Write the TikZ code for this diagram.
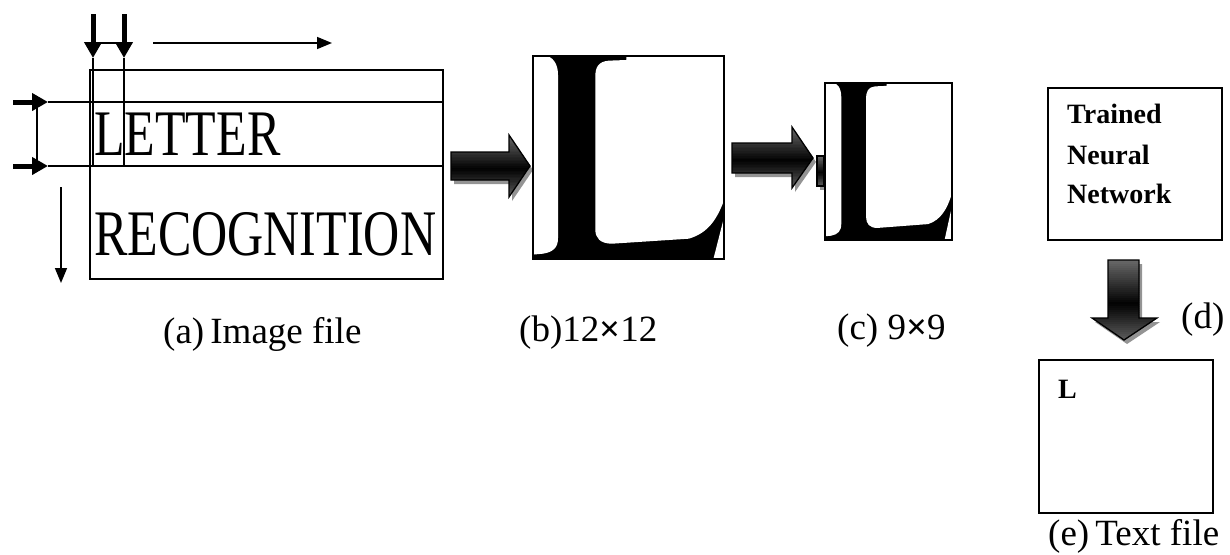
\documentclass[tikz,border=0pt]{standalone}
\usepackage{fontspec}
\usepackage{graphicx}
\setmainfont{Liberation Serif}
\usetikzlibrary{arrows.meta}
\newcommand\gradarrow[5]{%
  \fill[fill=black!42, shift={(3,4)}] #1;
  \begin{scope}
    \clip #1;
    \foreach \gk in {0,...,39}{%
      \pgfmathsetmacro\gya{#2+(#3-#2)*\gk/40}
      \pgfmathsetmacro\gyb{#2+(#3-#2)*(\gk+1.3)/40}
      \pgfmathsetmacro\gradT{\gk/39}
      \pgfmathtruncatemacro\gradP{\gradT<0.55 ? 60+40*\gradT/0.55 : 100-34*(\gradT-0.55)/0.45}
      \fill[black!\gradP] (#4,\gya) rectangle (#5,\gyb);
    }
  \end{scope}
  \draw[line width=1.3pt, line join=miter] #1;
}
\begin{document}
\begin{tikzpicture}[x=1pt,y=-1pt,
  frame/.style={draw=black, line width=1.6pt, inner sep=0pt, anchor=north west},
  bandline/.style={line width=2pt},
  guideline/.style={line width=1.5pt},
  thickarrow/.style={line width=5pt, -{Triangle[length=16pt,width=17pt]}},
  thinarrow/.style={line width=1.6pt, -{Triangle[length=15pt,width=12pt]}},
  lbl/.style={font=\fontsize{37}{40}\selectfont, anchor=base west, inner sep=0pt},
  bigword/.style={font=\fontsize{65}{70}\selectfont, anchor=base west, inner sep=0pt},
  nntext/.style={font=\fontsize{28}{40}\selectfont\bfseries, anchor=base west, inner sep=0pt},
]
\useasboundingbox (0,0) rectangle (1230,554);

% ---------------- (a) image file ----------------
\node[frame, minimum width=353pt, minimum height=209pt] (imgbox) at (89,69) {};
\node[bigword] (letter) at (94,155) {\scalebox{0.77}[1]{LETTER}};
\node[bigword] (recog) at (94,255) {\scalebox{0.77}[1]{RECOGNITION}};

\coordinate (lt0) at (13,102); \coordinate (lt1) at (48,102);
\coordinate (lb0) at (13,166); \coordinate (lb1) at (48,166);
\coordinate (rt) at (443,102);  \coordinate (rb) at (443,166);
\coordinate (br0) at (37,102);  \coordinate (br1) at (37,166);
\draw[bandline] (lt1) -- (rt);
\draw[bandline] (lb1) -- (rb);
\draw[bandline] (br0) -- (br1);
\draw[thickarrow] (lt0) -- (lt1);
\draw[thickarrow] (lb0) -- (lb1);

\coordinate (da0) at (93,14);  \coordinate (da1) at (93,58);  \coordinate (da2) at (93,166);
\coordinate (db0) at (124,14); \coordinate (db1) at (124,58); \coordinate (db2) at (124,166);
\coordinate (dm0) at (93,43);  \coordinate (dm1) at (124,43);
\draw[guideline] (da1) -- (da2);
\draw[guideline] (db1) -- (db2);
\draw[guideline] (dm0) -- (dm1);
\draw[thickarrow] (da0) -- (da1);
\draw[thickarrow] (db0) -- (db1);

\coordinate (ra0) at (153,43); \coordinate (ra1) at (332,43);
\draw[thinarrow] (ra0) -- (ra1);
\coordinate (va0) at (61,187); \coordinate (va1) at (61,283);
\draw[thinarrow] (va0) -- (va1);

\node[lbl] (la) at (163,343) {(a)\,Image file};

% ---------------- fat arrow 1 ----------------
\gradarrow{(451,152) -- (509,152) -- (509,135) -- (530,166) -- (509,197) -- (509,180) -- (451,180) -- cycle}{135}{197}{445}{535}

% ---------------- (b) 12x12 ----------------
\begin{scope}[shift={(532,55)}, xscale=0.3333, yscale=0.3328]
\fill[black] (0,0) rectangle (573,610);
\fill[white] (0,0) -- (33,0) .. controls (62,3) and (78,25) .. (78,60) -- (78,550) .. controls (78,580) and (62,592) .. (33,597) -- (0,600) -- cycle;
\fill[white] (283,0) -- (573,0) -- (573,445) .. controls (555,490) and (530,535) .. (470,552) -- (240,567) .. controls (205,567) and (190,550) .. (190,525) -- (190,65) .. controls (190,35) and (200,20) .. (230,17) -- (283,15) -- cycle;
\fill[white] (573,500) -- (573,610) -- (545,610) -- cycle;
\end{scope}
\node[frame, minimum width=191pt, minimum height=203pt] (boxb) at (532,55) {};
\node[lbl] (lb) at (519,341) {(b)12\textbf{×}12};

% ---------------- fat arrow 2 ----------------
\gradarrow{(732,143) -- (792,143) -- (792,127) -- (813,158) -- (792,188) -- (792,173) -- (732,173) -- cycle}{127}{188}{725}{818}
\gradarrow{(817,156) rectangle (824,186)}{156}{186}{815}{826}

% ---------------- (c) 9x9 ----------------
\begin{scope}[shift={(824,82)}, xscale=0.2216, yscale=0.2574]
\fill[black] (0,0) rectangle (573,610);
\fill[white] (0,0) -- (33,0) .. controls (62,3) and (78,25) .. (78,60) -- (78,550) .. controls (78,580) and (62,592) .. (33,597) -- (0,600) -- cycle;
\fill[white] (283,0) -- (573,0) -- (573,445) .. controls (555,490) and (530,535) .. (470,552) -- (240,567) .. controls (205,567) and (190,550) .. (190,525) -- (190,65) .. controls (190,35) and (200,20) .. (230,17) -- (283,15) -- cycle;
\fill[white] (573,500) -- (573,610) -- (545,610) -- cycle;
\end{scope}
\node[frame, minimum width=127pt, minimum height=157pt] (boxc) at (824,82) {};
\node[lbl] (lc) at (837,339) {(c) 9\textbf{×}9};

% ---------------- (d) neural network ----------------
\node[frame, minimum width=174pt, minimum height=152pt] (nnbox) at (1047,87) {};
\node[nntext] (t1) at (1067,123) {Trained};
\node[nntext] (t2) at (1067,164) {Neural};
\node[nntext] (t3) at (1067,203) {Network};

\gradarrow{(1108,260) -- (1139,260) -- (1139,318) -- (1157,318) -- (1124,340) -- (1092,318) -- (1108,318) -- cycle}{260}{340}{1088}{1160}
\node[lbl] (ld) at (1181,328) {(d)};

% ---------------- (e) text file ----------------
\node[frame, minimum width=174pt, minimum height=153pt] (txtbox) at (1038,359) {};
\node[nntext] (lL) at (1058,398) {L};
\node[lbl] (le) at (1048,545) {(e)\,Text file};
\end{tikzpicture}
\end{document}
